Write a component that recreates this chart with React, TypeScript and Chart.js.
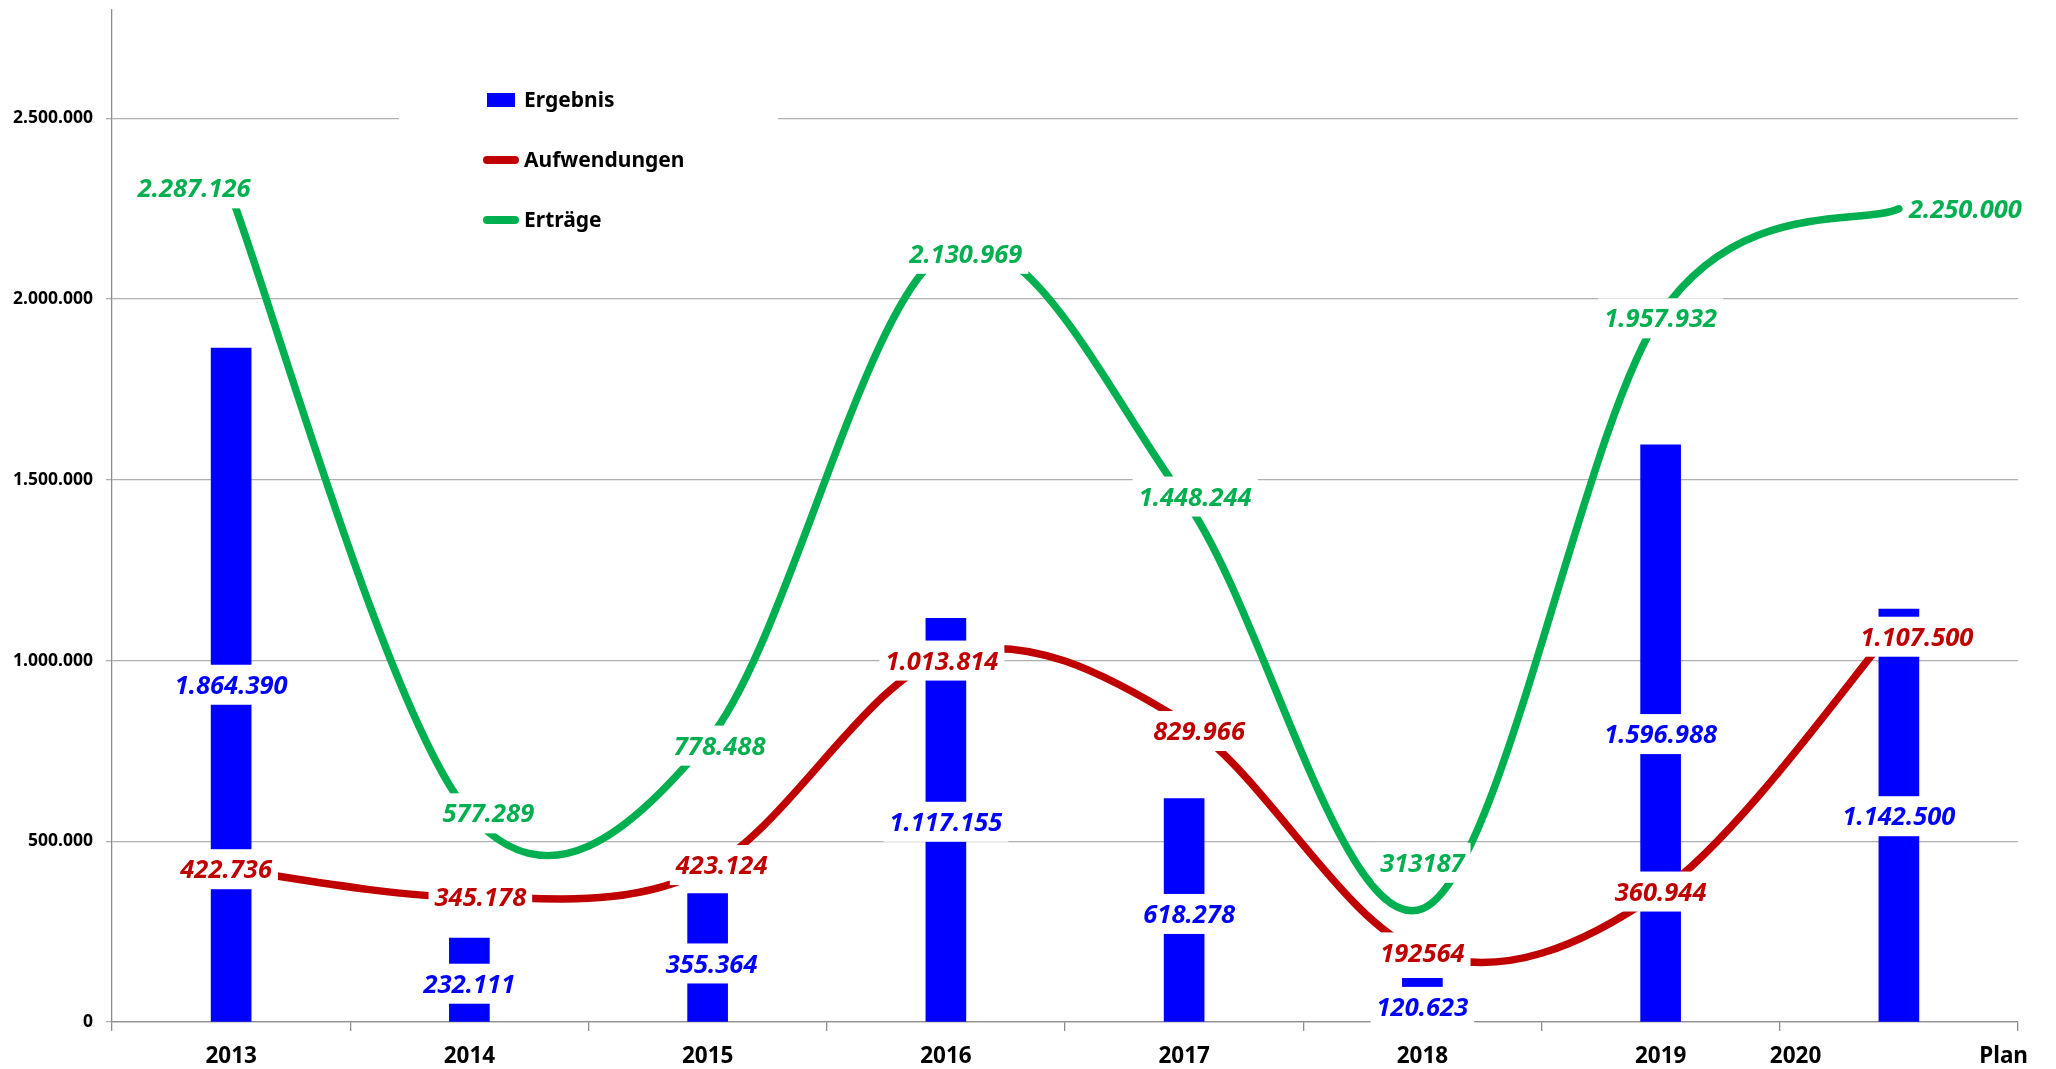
import { useEffect, useRef } from 'react';
import { Chart, registerables } from 'chart.js';

Chart.register(...registerables);

// ---------- data ----------
const categories = ['2013', '2014', '2015', '2016', '2017', '2018', '2019', '2020' + ' '.repeat(27) + 'Plan'];
const seriesNames = ['Ergebnis', 'Aufwendungen', 'Erträge'];
const ergebnis = [1864390, 232111, 355364, 1117155, 618278, 120623, 1596988, 1142500];
const aufwendungen = [422736, 345178, 423124, 1013814, 829966, 192564, 360944, 1107500];
const ertraege = [2287126, 577289, 778488, 2130969, 1448244, 313187, 1957932, 2250000];
const yTicks = [0, 500000, 1000000, 1500000, 2000000, 2500000];
const yMin = 0;
const yMax = 2800000;

// ---------- style ----------
const BLUE = '#0000FF';
const RED = '#C00000';
const GREEN = '#00B050';
const FONT = '"Noto Sans", "Open Sans", sans-serif';

const fmt = (v: number) => String(Math.round(v)).replace(/\B(?=(\d{3})+(?!\d))/g, '.');

// label placement tweaks (pixel nudges per dataset / point)
const labelOffsets: number[][][] = [
  [[0, 0], [0, 4], [4, 6], [0, 2], [5, 4], [0, 7], [0, 1], [0, 1]],
  [[-5, 0], [11, 0], [14, -4], [-4, 5], [15, 9], [0, 0], [0, 0], [18, 15]],
  [[-37, -7], [19, 0], [12, 5], [20, 2], [11, -2], [0, -46], [0, 4], [10, 0]],
];
const leftAnchored: number[][] = [[], [], [7]];
const ungrouped: number[][] = [[], [5], [5]];

// Excel-like smoothing (uniform Catmull-Rom control points on the library's own point positions)
const excelSmoothPlugin = {
  id: 'excelSmooth',
  beforeDatasetDraw(chart: any, args: any) {
    const meta = chart.getDatasetMeta(args.index);
    if (meta.type !== 'line' || !meta.dataset) return;
    const pts = meta.data;
    const n = pts.length;
    for (let i = 0; i < n; i++) {
      const p = pts[i];
      const prev = pts[Math.max(0, i - 1)];
      const next = pts[Math.min(n - 1, i + 1)];
      const tx = (next.x - prev.x) / 6;
      const ty = (next.y - prev.y) / 6;
      p.cp1x = p.x - tx;
      p.cp1y = p.y - ty;
      p.cp2x = p.x + tx;
      p.cp2y = p.y + ty;
    }
    meta.dataset._pointsUpdated = true;
  },
};

const valueLabelPlugin = {
  id: 'valueLabels',
  afterDatasetsDraw(chart: any) {
    const ctx = chart.ctx as CanvasRenderingContext2D;
    const size = 25.5;
    ctx.save();
    ctx.font = `italic bold ${size}px ${FONT}`;
    ctx.textAlign = 'center';
    ctx.textBaseline = 'alphabetic';
    chart.data.datasets.forEach((ds: any, di: number) => {
      const meta = chart.getDatasetMeta(di);
      meta.data.forEach((el: any, i: number) => {
        const v = ds.data[i];
        const text = ungrouped[di].includes(i) ? String(v) : fmt(v);
        let x = el.x;
        let y = el.y;
        if (meta.type === 'bar') y = (el.y + el.base) / 2;
        const [dx, dy] = labelOffsets[di][i];
        const w = ctx.measureText(text).width;
        let cx = x + dx;
        if (leftAnchored[di].includes(i)) cx = x + dx + w / 2;
        const cy = y + dy;
        const padX = 6;
        const boxH = 40;
        ctx.fillStyle = '#ffffff';
        ctx.fillRect(cx - w / 2 - padX, cy - boxH / 2, w + padX * 2, boxH);
        ctx.fillStyle = ds.labelColor;
        ctx.fillText(text, cx, cy + size * 0.357);
      });
    });
    ctx.restore();
  },
};

const legendPlugin = {
  id: 'insideLegend',
  afterDatasetsDraw(chart: any) {
    const ctx = chart.ctx as CanvasRenderingContext2D;
    ctx.save();
    ctx.fillStyle = '#ffffff';
    ctx.fillRect(399, 62, 379, 188);
    const size = 21;
    ctx.font = `bold ${size}px ${FONT}`;
    ctx.textAlign = 'left';
    ctx.textBaseline = 'alphabetic';
    chart.data.datasets.forEach((ds: any, i: number) => {
      const cy = 100 + i * 60;
      if (ds.type === 'line') {
        ctx.strokeStyle = ds.borderColor;
        ctx.lineWidth = 8;
        ctx.lineCap = 'round';
        ctx.beginPath();
        ctx.moveTo(487, cy);
        ctx.lineTo(515, cy);
        ctx.stroke();
      } else {
        ctx.fillStyle = ds.backgroundColor;
        ctx.fillRect(487, cy - 7, 28, 14);
      }
      ctx.fillStyle = '#000000';
      ctx.fillText(ds.label, 524, cy + size * 0.357);
    });
    ctx.restore();
  },
};

export default function App() {
  const ref = useRef<HTMLCanvasElement | null>(null);

  useEffect(() => {
    if (!ref.current) return;
    Chart.defaults.font.family = FONT;
    const lineCommon = {
      type: 'line',
      borderWidth: 7.5,
      tension: 0.4,
      pointRadius: 0,
      pointHoverRadius: 0,
      fill: false,
      borderCapStyle: 'round',
      borderJoinStyle: 'round',
    };
    const chart = new Chart(ref.current, {
      type: 'bar',
      data: {
        labels: categories,
        datasets: [
          {
            type: 'bar',
            label: seriesNames[0],
            data: ergebnis,
            backgroundColor: BLUE,
            borderWidth: 0,
            barThickness: 40,
            order: 3,
            labelColor: BLUE,
          } as any,
          {
            ...lineCommon,
            label: seriesNames[1],
            data: aufwendungen,
            borderColor: RED,
            backgroundColor: RED,
            order: 2,
            labelColor: RED,
          } as any,
          {
            ...lineCommon,
            label: seriesNames[2],
            data: ertraege,
            borderColor: GREEN,
            backgroundColor: GREEN,
            order: 1,
            labelColor: GREEN,
          } as any,
        ],
      },
      options: {
        animation: false,
        responsive: true,
        maintainAspectRatio: false,
        layout: { padding: { top: 0, right: 38, left: 0, bottom: 0 } },
        plugins: {
          legend: { display: false },
          tooltip: { enabled: false },
        },
        scales: {
          x: {
            type: 'category',
            offset: true,
            grid: {
              offset: true,
              drawOnChartArea: false,
              drawTicks: true,
              tickLength: 9,
              color: '#8c8c8c',
              lineWidth: 1.3,
            },
            border: { color: '#8c8c8c', width: 1.3 },
            ticks: {
              color: '#000000',
              font: { size: 22.5, weight: 'bold', family: FONT },
              maxRotation: 0,
              minRotation: 0,
              autoSkip: false,
              padding: 12,
            },
            afterFit: (scale: any) => {
              scale.height = 47;
            },
          },
          y: {
            min: yMin,
            max: yMax,
            grid: {
              color: '#b0b0b0',
              lineWidth: 1.3,
              tickLength: 6,
              drawTicks: true,
            },
            border: { color: '#8c8c8c', width: 1.3 },
            ticks: {
              color: '#000000',
              font: { size: 17.5, weight: 'bold', family: FONT },
              padding: 13,
              callback: (v: any) => fmt(Number(v)),
            },
            afterBuildTicks: (scale: any) => {
              scale.ticks = yTicks.map((v) => ({ value: v }));
            },
            afterFit: (scale: any) => {
              scale.width = 112;
              scale.paddingTop = 10;
            },
          },
        },
      } as any,
      plugins: [excelSmoothPlugin, valueLabelPlugin, legendPlugin],
    });
    return () => chart.destroy();
  }, []);

  return (
    <div
      style={{
        position: 'fixed',
        left: 0,
        top: 0,
        width: 2056,
        height: 1069,
        background: '#ffffff',
      }}
    >
      <canvas ref={ref} />
    </div>
  );
}
